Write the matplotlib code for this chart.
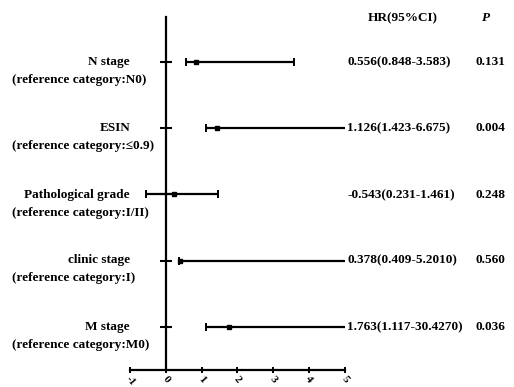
import numpy as np
import matplotlib
matplotlib.use("Agg")
import matplotlib.pyplot as plt

# forest plot values as drawn (dot, left end, right end)
names = ["N stage", "ESIN", "Pathological grade", "clinic stage", "M stage"]
refs = ["(reference category:N0)", "(reference category:\u22640.9)",
        "(reference category:I/II)", "(reference category:I)",
        "(reference category:M0)"]
est = [0.848, 1.423, 0.231, 0.409, 1.763]
lo = [0.556, 1.126, -0.543, 0.378, 1.117]
hi = [3.583, 6.675, 1.461, 5.201, 30.427]
hr_text = ["0.556(0.848-3.583)", "1.126(1.423-6.675)", "-0.543(0.231-1.461)",
           "0.378(0.409-5.2010)", "1.763(1.117-30.4270)"]
p_text = ["0.131", "0.004", "0.248", "0.560", "0.036"]
xticks = [-1, 0, 1, 2, 3, 4, 5]

plt.rcParams["font.family"] = ["Liberation Serif", "DejaVu Serif"]
plt.rcParams["font.weight"] = "bold"

fig = plt.figure(figsize=(5.14, 3.87), dpi=100)
ax = fig.add_axes([0.253, 0.044, 0.418, 0.912])

ys = np.arange(len(names), 0, -1)
est = np.array(est)
lo = np.array(lo)
hi = np.array(hi)

ax.errorbar(est, ys, xerr=[est - lo, hi - est], fmt="s", color="black",
            ms=3, elinewidth=1.6, capsize=3, capthick=1.4)
ax.plot(np.zeros(len(ys)), ys, ls="none", marker="_", ms=9, mew=1.5,
        color="black")

ax.set_xlim(-1, 5)
ax.set_ylim(0.35, 5.68)
ax.spines["left"].set_position(("data", 0))
ax.spines["left"].set_linewidth(1.6)
ax.spines["bottom"].set_linewidth(1.6)
ax.spines["top"].set_visible(False)
ax.spines["right"].set_visible(False)
ax.set_yticks([])
ax.set_xticks(xticks)
ax.set_xticklabels([str(t) for t in xticks], rotation=-50, fontsize=8,
                   fontweight="bold")
ax.tick_params(axis="x", direction="inout", length=5, width=1.4, pad=1)

W, H = 514, 387
fs = 9.5
row_px = [62, 128, 195, 260, 327]
for i in range(len(names)):
    y = 1 - row_px[i] / H
    fig.text(130 / W, y, names[i], ha="right", va="center", fontsize=fs,
             fontweight="bold")
    fig.text(12 / W, y - 18 / H, refs[i], ha="left", va="center", fontsize=fs,
             fontweight="bold")
    fig.text(347 / W, y, hr_text[i], ha="left", va="center", fontsize=fs,
             fontweight="bold")
    fig.text(476 / W, y, p_text[i], ha="left", va="center", fontsize=fs,
             fontweight="bold")

fig.text(403 / W, 1 - 18 / H, "HR(95%CI)", ha="center", va="center",
         fontsize=fs, fontweight="bold")
fig.text(486 / W, 1 - 18 / H, "P", ha="center", va="center", fontsize=fs,
         fontweight="bold", style="italic")

fig.savefig("out.png", dpi=100)
